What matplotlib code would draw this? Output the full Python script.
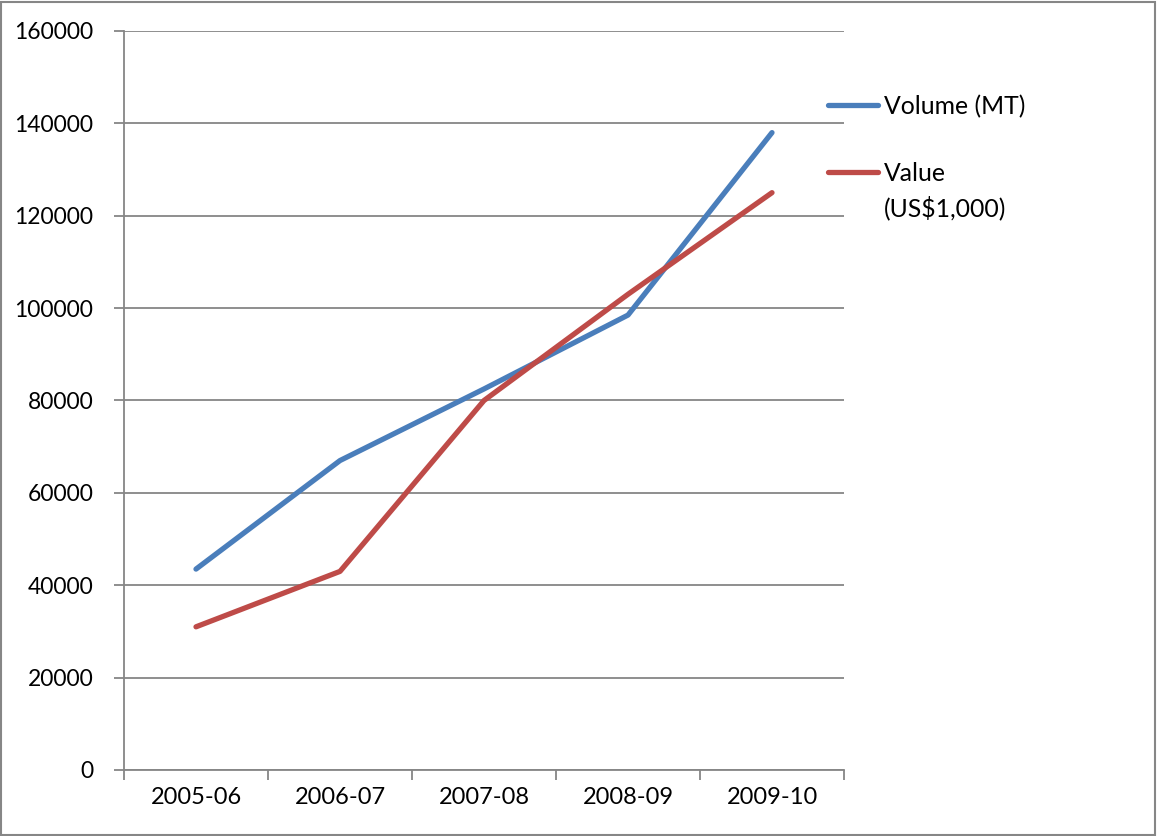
import numpy as np
import matplotlib.pyplot as plt
from matplotlib.lines import Line2D
from matplotlib.patches import Rectangle

# Datos
anios = ["2005-06", "2006-07", "2007-08", "2008-09", "2009-10"]
volumen = [43500, 67000, 82500, 98500, 138000]
valor = [31000, 43000, 80000, 103000, 125000]
etiquetas = ["Volume (MT)", "Value\n(US$1,000)"]

azul = "#4A7EBB"
rojo = "#BE4B48"
gris = "#868686"

plt.rcParams['font.family'] = ['Lato', 'DejaVu Sans']

fig = plt.figure(figsize=(11.57, 8.36), dpi=100)
ax = fig.add_axes([124 / 1157, 1 - 770 / 836, 720 / 1157, 739 / 836])

x = np.arange(len(anios))
ax.plot(x, volumen, color=azul, lw=3.8, solid_capstyle='round', solid_joinstyle='round')
ax.plot(x, valor, color=rojo, lw=3.8, solid_capstyle='round', solid_joinstyle='round')

ax.set_xlim(-0.5, len(anios) - 0.5)
ax.set_ylim(0, 160000)
ax.set_yticks(np.arange(0, 160001, 20000))
ax.set_yticklabels([str(v) for v in range(0, 160001, 20000)], fontsize=16.5)
ax.set_xticks(np.arange(-0.5, len(anios), 1.0))
ax.set_xticklabels([])
ax.set_xticks(x, minor=True)
ax.set_xticklabels(anios, minor=True, fontsize=17)
ax.tick_params(axis='x', which='minor', length=0, pad=12)
ax.tick_params(axis='x', which='major', length=7, color=gris, width=1.3)
ax.tick_params(axis='y', length=7, color=gris, width=1.3, pad=15)

ax.grid(True, axis='y', color=gris, lw=1.3)
ax.set_axisbelow(True)
for lado in ['top', 'right']:
    ax.spines[lado].set_visible(False)
for lado in ['left', 'bottom']:
    ax.spines[lado].set_color(gris)
    ax.spines[lado].set_linewidth(1.3)

# Leyenda a la derecha
W, H = 1157, 836
for color, texto, yy in [(azul, etiquetas[0], 105), (rojo, etiquetas[1], 172)]:
    fig.add_artist(Line2D([828 / W, 878 / W], [1 - yy / H, 1 - yy / H], color=color,
                          lw=3.8, solid_capstyle='round', transform=fig.transFigure))
    fig.text(884 / W, 1 - (yy - 10) / H, texto, fontsize=17.8, va='top', ha='left',
             linespacing=1.5)

# Marco del grafico
fig.add_artist(Rectangle((0.001, 0.001), 0.997, 0.997, transform=fig.transFigure,
                         fill=False, edgecolor=gris, lw=1.5))

fig.savefig("out.png", dpi=100)
